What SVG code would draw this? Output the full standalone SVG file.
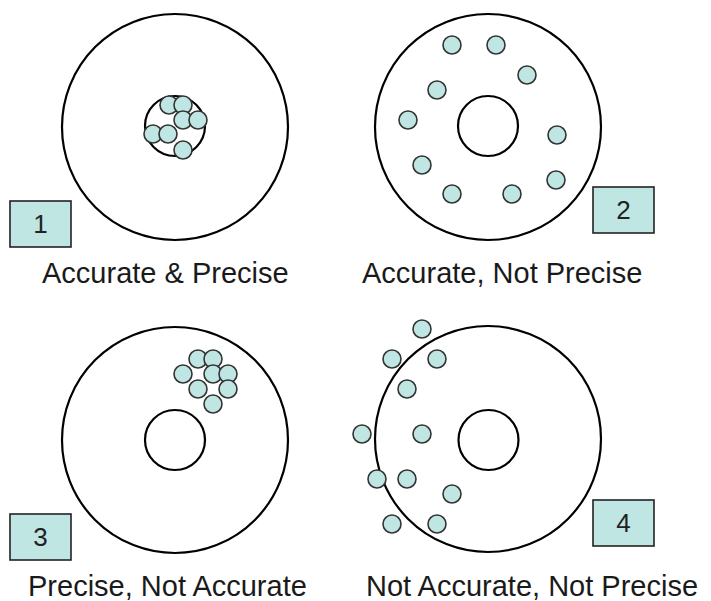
<svg xmlns="http://www.w3.org/2000/svg" width="711" height="601" viewBox="0 0 711 601">
<style>
.ring{fill:none;stroke:#000;stroke-width:2.2}
.hole{fill:#fff;stroke:#000;stroke-width:2.2}
.dot{fill:#bfe6e3;stroke:#333;stroke-width:1.6}
.box{fill:#bfe6e3;stroke:#222;stroke-width:1.6}
.num{font-family:"Liberation Sans",Arial,sans-serif;font-size:26px;fill:#222;text-anchor:middle}
.lbl{font-family:"Liberation Sans",Arial,sans-serif;font-size:29px;fill:#1a1a1a}
</style>
<rect width="711" height="601" fill="#fff"/>
<g id="target1">
<circle class="ring" cx="175" cy="127" r="113"/>
<circle class="hole" cx="175" cy="126" r="30"/>
<circle class="dot" cx="169" cy="105" r="9"/>
<circle class="dot" cx="183" cy="105" r="9"/>
<circle class="dot" cx="183" cy="120" r="9"/>
<circle class="dot" cx="198" cy="120" r="9"/>
<circle class="dot" cx="153" cy="134" r="9"/>
<circle class="dot" cx="168" cy="134" r="9"/>
<circle class="dot" cx="183" cy="150" r="9"/>
<rect class="box" x="10" y="201" width="61" height="46"/>
<text class="num" x="40.5" y="233">1</text>
<text class="lbl" x="42" y="283">Accurate &amp; Precise</text>
</g>
<g id="target2">
<circle class="ring" cx="488" cy="127" r="113"/>
<circle class="hole" cx="488" cy="126" r="30"/>
<circle class="dot" cx="452" cy="45" r="9"/>
<circle class="dot" cx="496" cy="45" r="9"/>
<circle class="dot" cx="527" cy="75" r="9"/>
<circle class="dot" cx="437" cy="90" r="9"/>
<circle class="dot" cx="408" cy="120" r="9"/>
<circle class="dot" cx="557" cy="135" r="9"/>
<circle class="dot" cx="422" cy="165" r="9"/>
<circle class="dot" cx="556" cy="180" r="9"/>
<circle class="dot" cx="452" cy="194" r="9"/>
<circle class="dot" cx="512" cy="194" r="9"/>
<rect class="box" x="593" y="187" width="61" height="46"/>
<text class="num" x="623.5" y="219">2</text>
<text class="lbl" x="362" y="283">Accurate, Not Precise</text>
</g>
<g id="target3">
<circle class="ring" cx="175" cy="440" r="113"/>
<circle class="hole" cx="175" cy="440" r="30"/>
<circle class="dot" cx="198" cy="359" r="9"/>
<circle class="dot" cx="213" cy="359" r="9"/>
<circle class="dot" cx="183" cy="374" r="9"/>
<circle class="dot" cx="213" cy="374" r="9"/>
<circle class="dot" cx="228" cy="374" r="9"/>
<circle class="dot" cx="198" cy="389" r="9"/>
<circle class="dot" cx="228" cy="389" r="9"/>
<circle class="dot" cx="213" cy="404" r="9"/>
<rect class="box" x="10" y="514" width="61" height="46"/>
<text class="num" x="40.5" y="546">3</text>
<text class="lbl" x="28" y="596">Precise, Not Accurate</text>
</g>
<g id="target4">
<circle class="ring" cx="488" cy="439" r="113"/>
<circle class="hole" cx="488.5" cy="440" r="30"/>
<circle class="dot" cx="422" cy="329" r="9"/>
<circle class="dot" cx="392" cy="359" r="9"/>
<circle class="dot" cx="437" cy="359" r="9"/>
<circle class="dot" cx="407" cy="389" r="9"/>
<circle class="dot" cx="362" cy="434" r="9"/>
<circle class="dot" cx="422" cy="434" r="9"/>
<circle class="dot" cx="377" cy="479" r="9"/>
<circle class="dot" cx="407" cy="479" r="9"/>
<circle class="dot" cx="452" cy="494" r="9"/>
<circle class="dot" cx="392" cy="524" r="9"/>
<circle class="dot" cx="437" cy="524" r="9"/>
<rect class="box" x="593" y="500" width="61" height="46"/>
<text class="num" x="623.5" y="532">4</text>
<text class="lbl" x="366" y="596">Not Accurate, Not Precise</text>
</g>
<g id="connectors"/>
</svg>
